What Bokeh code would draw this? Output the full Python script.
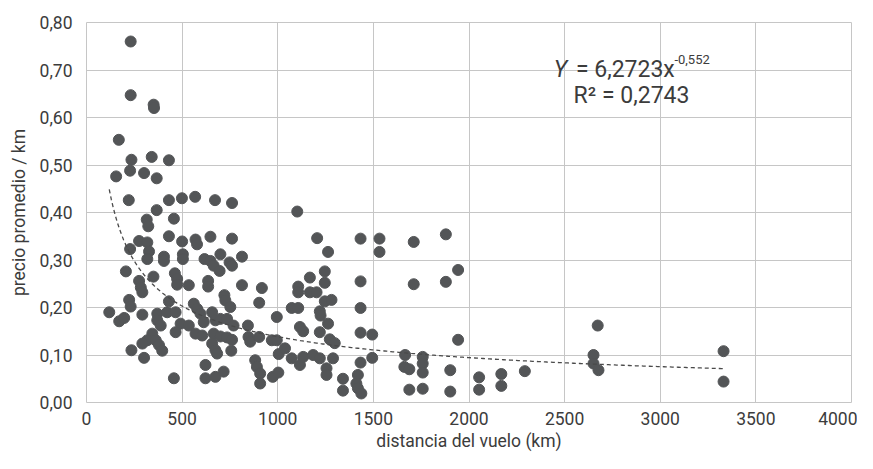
import numpy as np
from bokeh.plotting import figure
from bokeh.models import Label, FixedTicker
from bokeh.embed import file_html
from bokeh.resources import INLINE

# ---- data ----
distance_km = [
    231, 231, 351, 353, 169, 235, 228, 341, 431, 155, 301, 367, 221, 367, 431, 499, 568, 672, 761,
    315, 323, 457, 431, 500, 570, 578, 648, 761, 275, 318, 228, 327, 318, 405, 405, 504, 504, 617,
    648, 665, 696, 700, 748, 761, 813, 206, 275, 284, 292, 350, 462, 474, 474, 535, 636, 636, 813,
    917, 721, 726, 752, 903, 223, 231, 119, 171, 197, 292, 370, 370, 388, 431, 422, 466, 561, 579,
    596, 613, 492, 535, 466, 657, 674, 700, 735, 769, 844, 995, 344, 318, 292, 362, 379, 396, 235,
    301, 570, 605, 665, 657, 674, 683, 700, 735, 761, 757, 847, 856, 903, 969, 995, 1005, 622, 622,
    674, 717, 457, 882, 891, 908, 908, 974, 1003, 1102, 1206, 1433, 1532, 1532, 1263, 1711, 1879,
    1943, 1711, 1879, 1433, 1433, 1433, 1494, 1943, 1168, 1246, 1246, 1107, 1107, 1168, 1203, 1246,
    1281, 1073, 1107, 1220, 1224, 1263, 1116, 1133, 1220, 1272, 1298, 1038, 1073, 1116, 1133, 1185,
    1220, 1289, 1255, 1255, 1341, 1341, 1419, 1411, 1419, 1437, 1433, 1494, 1666, 1662, 1688, 1758,
    1758, 1758, 1902, 1688, 1758, 1902, 2053, 2053, 2169, 2169, 2292, 2673, 2651, 2651, 2677, 3331,
    3331,
]
price_per_km = [
    0.760, 0.647, 0.627, 0.620, 0.553, 0.511, 0.488, 0.517, 0.510, 0.476, 0.483, 0.472, 0.426, 0.405,
    0.426, 0.430, 0.433, 0.426, 0.420, 0.385, 0.371, 0.387, 0.350, 0.339, 0.343, 0.333, 0.349, 0.345,
    0.340, 0.337, 0.323, 0.318, 0.302, 0.307, 0.298, 0.312, 0.302, 0.302, 0.298, 0.288, 0.277, 0.312,
    0.295, 0.288, 0.307, 0.276, 0.256, 0.242, 0.232, 0.265, 0.272, 0.260, 0.248, 0.247, 0.256, 0.244,
    0.247, 0.241, 0.226, 0.215, 0.201, 0.210, 0.216, 0.202, 0.190, 0.171, 0.178, 0.185, 0.187, 0.173,
    0.162, 0.213, 0.190, 0.190, 0.208, 0.197, 0.187, 0.169, 0.166, 0.162, 0.148, 0.190, 0.173, 0.176,
    0.176, 0.162, 0.162, 0.180, 0.145, 0.131, 0.124, 0.131, 0.121, 0.109, 0.110, 0.094, 0.145, 0.141,
    0.145, 0.124, 0.110, 0.103, 0.139, 0.137, 0.132, 0.109, 0.138, 0.128, 0.138, 0.131, 0.131, 0.102,
    0.079, 0.051, 0.054, 0.065, 0.051, 0.089, 0.075, 0.061, 0.040, 0.054, 0.063, 0.402, 0.346, 0.345,
    0.345, 0.317, 0.317, 0.338, 0.354, 0.279, 0.249, 0.254, 0.255, 0.199, 0.147, 0.143, 0.132, 0.263,
    0.276, 0.252, 0.244, 0.232, 0.232, 0.232, 0.213, 0.216, 0.199, 0.199, 0.192, 0.183, 0.166, 0.159,
    0.150, 0.148, 0.133, 0.125, 0.114, 0.093, 0.079, 0.096, 0.100, 0.093, 0.093, 0.072, 0.058, 0.050,
    0.025, 0.058, 0.040, 0.030, 0.019, 0.084, 0.094, 0.100, 0.075, 0.070, 0.096, 0.082, 0.063, 0.068,
    0.027, 0.029, 0.023, 0.053, 0.027, 0.060, 0.035, 0.066, 0.162, 0.100, 0.082, 0.068, 0.108, 0.044,
]

# power trendline stated on the chart: Y = 6,2723 x^-0,552 ; R² = 0,2743
fit_a = 6.2723
fit_b = -0.552

x_ticks = [0, 500, 1000, 1500, 2000, 2500, 3000, 3500, 4000]
x_tick_labels = ["0", "500", "1000", "1500", "2000", "2500", "3000", "3500", "4000"]
y_ticks = [0.0, 0.1, 0.2, 0.3, 0.4, 0.5, 0.6, 0.7, 0.8]
y_tick_labels = ["0,00", "0,10", "0,20", "0,30", "0,40", "0,50", "0,60", "0,70", "0,80"]

FONT = "Roboto"
TEXT = "#3c3c3c"
GRID = "#c6c6c6"
DOT = "#535557"

p = figure(width=857, height=453, x_range=(0, 4000), y_range=(0, 0.8),
           output_backend="svg", toolbar_location=None,
           min_border_left=86, min_border_right=6, min_border_top=22, min_border_bottom=48)
p.background_fill_color = "white"
p.border_fill_color = "white"
p.outline_line_color = GRID
p.outline_line_width = 1

p.xaxis.ticker = FixedTicker(ticks=x_ticks)
p.yaxis.ticker = FixedTicker(ticks=y_ticks)
p.xaxis.major_label_overrides = {t: l for t, l in zip(x_ticks, x_tick_labels)}
p.yaxis.major_label_overrides = {t: l for t, l in zip(y_ticks, y_tick_labels)}
p.xgrid.ticker = FixedTicker(ticks=x_ticks)
p.ygrid.ticker = FixedTicker(ticks=y_ticks)
p.grid.grid_line_color = GRID
p.grid.grid_line_width = 1

for ax in (p.xaxis, p.yaxis):
    ax.axis_line_color = None
    ax.major_tick_line_color = None
    ax.minor_tick_line_color = None
    ax.major_tick_out = 0
    ax.major_tick_in = 0
    ax.major_label_text_font = FONT
    ax.major_label_text_font_size = "17.5px"
    ax.major_label_text_color = TEXT
    ax.axis_label_text_font = FONT
    ax.axis_label_text_font_size = "17.5px"
    ax.axis_label_text_font_style = "normal"
    ax.axis_label_text_color = TEXT

p.xaxis.axis_label = "distancia del vuelo (km)"
p.yaxis.axis_label = "precio promedio / km"
p.xaxis.major_label_standoff = 9
p.yaxis.major_label_standoff = 14
p.xaxis.axis_label_standoff = 3
p.yaxis.axis_label_standoff = 8

p.scatter(distance_km, price_per_km, size=11, fill_color=DOT, line_color=DOT)

xs = np.linspace(min(distance_km), max(distance_km), 300)
ys = fit_a * xs ** fit_b
p.line(xs, ys, line_color="#4a4a4a", line_width=1.3, line_dash="4 3")

# equation annotation
p.add_layout(Label(x=2443, y=0.702, text="Y", text_font=FONT, text_font_size="23px",
                   text_font_style="italic", text_color=TEXT, text_baseline="alphabetic"))
p.add_layout(Label(x=3076, y=0.702, text="= 6,2723x", text_font=FONT, text_font_size="23px",
                   text_color=TEXT, text_align="right", text_baseline="alphabetic"))
p.add_layout(Label(x=3074, y=0.723, text="-0,552", text_font=FONT, text_font_size="13px",
                   text_color=TEXT, text_baseline="alphabetic"))
p.add_layout(Label(x=2547, y=0.6465, text="R² = 0,2743", text_font=FONT, text_font_size="23px",
                   text_color=TEXT, text_baseline="alphabetic"))

open("out.html", "w").write(file_html(p, INLINE))
